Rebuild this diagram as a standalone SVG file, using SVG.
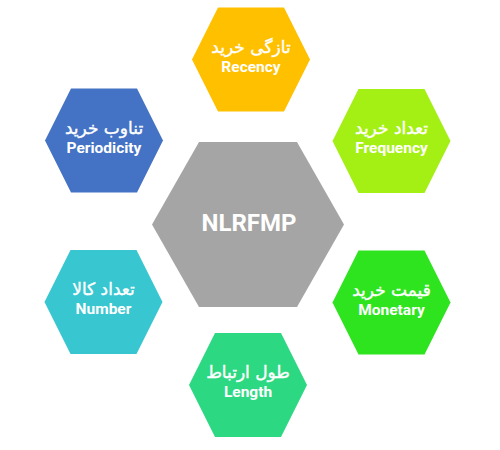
<svg xmlns="http://www.w3.org/2000/svg" xmlns:xlink="http://www.w3.org/1999/xlink" width="500" height="450" viewBox="0 0 500 450">
<defs>
<polygon id="hex" points="-33,-52 33,-52 59,0 33,52 -33,52 -59,0"/>
<style>
.fa{font-family:"DejaVu Sans",sans-serif;font-size:17px;font-weight:normal;fill:#fff;stroke:#fff;stroke-width:0.4;text-anchor:middle;direction:rtl}
.en{font-family:"Roboto","Liberation Sans",sans-serif;font-size:15.5px;font-weight:bold;fill:#fff;text-anchor:middle}
.c{font-family:"Roboto","Liberation Sans",sans-serif;font-size:24px;font-weight:bold;fill:#fff;text-anchor:middle}
</style>
</defs>
<rect width="500" height="450" fill="#fff"/>
<g id="connectors"/>
<g id="center">
<polygon points="199,142 297,142 344,224.5 297,307 199,307 152,224.5" fill="#A5A5A5"/>
<text class="c" x="249" y="231">NLRFMP</text>
</g>
<g id="recency" transform="translate(251,59.5)">
<use xlink:href="#hex" fill="#FFC000"/>
<text class="fa" x="0" y="-7">تازگی خرید</text>
<text class="en" x="0" y="12">Recency</text>
</g>
<g id="frequency" transform="translate(391.5,141)">
<use xlink:href="#hex" fill="#A5F014"/>
<text class="fa" x="0" y="-7">تعداد خرید</text>
<text class="en" x="0" y="12">Frequency</text>
</g>
<g id="monetary" transform="translate(391.5,302.5)">
<use xlink:href="#hex" fill="#2EE41E"/>
<text class="fa" x="0" y="-7">قیمت خرید</text>
<text class="en" x="0" y="12">Monetary</text>
</g>
<g id="length" transform="translate(248,385)">
<use xlink:href="#hex" fill="#2DD883"/>
<text class="fa" x="0" y="-7">طول ارتباط</text>
<text class="en" x="0" y="12">Length</text>
</g>
<g id="number" transform="translate(103.5,302)">
<use xlink:href="#hex" fill="#38C6D0"/>
<text class="fa" x="0" y="-7">تعداد کالا</text>
<text class="en" x="0" y="12">Number</text>
</g>
<g id="periodicity" transform="translate(104,140.5)">
<use xlink:href="#hex" fill="#4472C4"/>
<text class="fa" x="0" y="-7">تناوب خرید</text>
<text class="en" x="0" y="12">Periodicity</text>
</g>
</svg>
